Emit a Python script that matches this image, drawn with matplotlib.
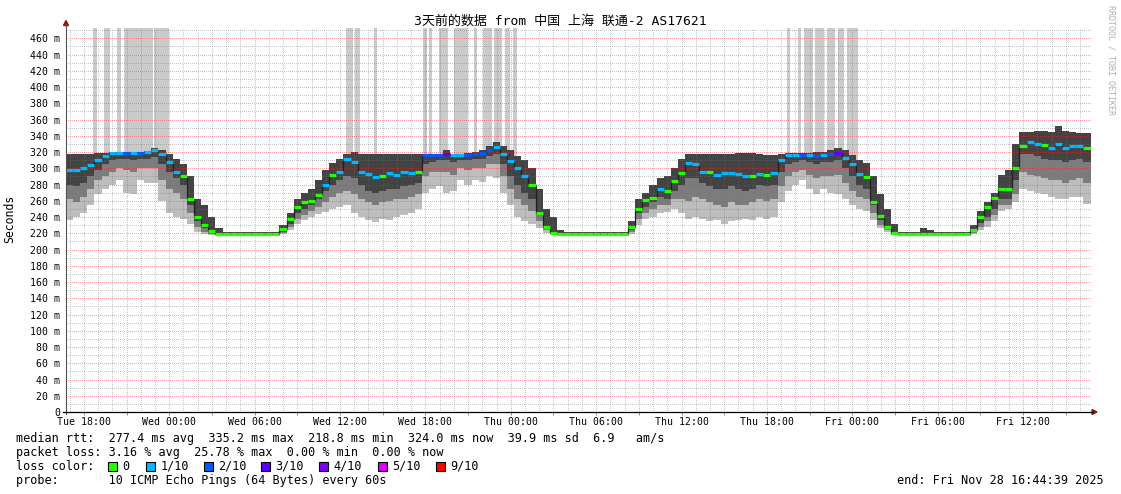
#!/usr/bin/env python3
# SmokePing style latency graph: 3 days of median rtt, smoke and loss colour.
import numpy as np
import matplotlib
matplotlib.use("Agg")
import matplotlib.pyplot as plt
from matplotlib.lines import Line2D
from matplotlib.patches import Polygon, Rectangle

# -----------------------------------------------------------------------------
# Data: time is hours since Tue 25 Nov 00:00, one value per 30 min step
# -----------------------------------------------------------------------------
T_START = 16 + 44 / 60 + 39 / 3600
STEP = 0.5

median_ms = [
    298.5, 298, 300, 304, 310, 315, 319, 319, 319, 319, 319, 320,
    322, 317, 308, 296, 290, 262, 240, 230, 223, 219.5, 219, 219,
    219, 219, 219, 219, 219, 219, 225, 238, 252, 258, 260, 267,
    280, 292, 296, 311, 308, 296, 293, 289, 291, 294, 292, 295,
    294, 296, 316, 316, 316, 318, 316, 316, 316, 317, 319, 323,
    326, 318, 309, 300, 291, 280, 245, 228, 220, 219, 219, 219,
    219, 219, 219, 219, 219, 219, 219.5, 228, 250, 261, 264, 274,
    272, 284, 294, 307, 305, 296, 295, 292, 294, 294, 293, 290,
    291, 293, 292, 294, 310, 316, 316, 316, 316, 315, 316, 317,
    319, 313, 305, 293, 289, 258, 241, 228, 220, 219, 219, 219,
    219, 219, 219, 219, 219, 219, 219, 224, 240, 252, 263, 275,
    274, 300, 327, 332, 330, 329, 325, 330, 325, 327, 328, 325,
]

# lost pings out of 10 for each step
loss_count = [
    1, 1, 1, 1, 1, 1, 1, 1, 2, 1, 2, 1,
    1, 1, 1, 1, 0, 0, 0, 0, 0, 0, 0, 0,
    0, 0, 0, 0, 0, 0, 0, 0, 0, 0, 0, 0,
    1, 0, 1, 1, 1, 1, 1, 1, 0, 1, 1, 1,
    1, 0, 2, 2, 2, 3, 1, 1, 2, 2, 2, 2,
    1, 1, 1, 1, 1, 0, 0, 0, 0, 0, 0, 0,
    0, 0, 0, 0, 0, 0, 0, 0, 0, 0, 0, 1,
    0, 0, 0, 1, 1, 1, 0, 1, 1, 1, 1, 1,
    0, 1, 0, 1, 1, 1, 1, 2, 1, 2, 1, 2,
    3, 1, 1, 1, 0, 0, 0, 0, 0, 0, 0, 0,
    0, 0, 0, 0, 0, 0, 0, 0, 0, 0, 0, 0,
    0, 0, 0, 1, 1, 0, 1, 1, 1, 1, 1, 0,
]

# smoke: highest ping, and lower edges of the dark / mid / light layers
smoke_top = [
    318, 318, 318, 318, 319, 319, 320, 320, 320, 320, 320, 321,
    325, 322, 318, 312, 305, 290, 262, 255, 240, 226, 221, 221,
    221, 221, 221, 221, 221, 221, 230, 245, 262, 270, 275, 285,
    298, 306, 312, 318, 320, 318, 318, 318, 318, 318, 318, 317,
    317, 317, 318, 318, 318, 322, 318, 318, 319, 320, 323, 328,
    332, 328, 322, 315, 310, 300, 275, 250, 240, 224, 221, 221,
    221, 221, 221, 221, 221, 221, 222, 235, 262, 270, 280, 288,
    290, 300, 312, 318, 318, 318, 318, 318, 318, 318, 319, 319,
    319, 318, 316, 316, 318, 319, 319, 319, 319, 320, 320, 323,
    325, 322, 316, 310, 306, 290, 268, 250, 232, 221, 221, 221,
    226, 224, 221, 221, 221, 221, 221, 230, 248, 258, 270, 292,
    298, 330, 345, 345, 346, 346, 345, 352, 346, 345, 344, 344,
]
smoke_dark_lo = [
    280, 278, 282, 290, 298, 305, 310, 312, 312, 310, 312, 312,
    314, 305, 295, 288, 280, 255, 235, 226, 220, 219, 218.5, 218.5,
    218.5, 218.5, 218.5, 218.5, 218.5, 218.5, 222, 232, 245, 250, 255, 262,
    272, 280, 285, 290, 288, 280, 272, 270, 272, 275, 275, 278,
    280, 282, 305, 308, 310, 310, 308, 310, 310, 312, 312, 315,
    318, 305, 290, 280, 270, 262, 245, 228, 222, 219, 218.5, 218.5,
    218.5, 218.5, 218.5, 218.5, 218.5, 218.5, 219, 224, 245, 252, 258, 265,
    262, 272, 280, 288, 288, 282, 278, 275, 275, 278, 275, 272,
    275, 280, 278, 280, 295, 305, 308, 310, 308, 305, 308, 308,
    310, 300, 290, 280, 275, 255, 236, 228, 220, 218.5, 218.5, 218.5,
    218.5, 218.5, 218.5, 218.5, 218.5, 218.5, 218.5, 222, 233, 240, 250, 262,
    262, 285, 318, 318, 315, 312, 310, 310, 308, 310, 312, 308,
]
smoke_mid_lo = [
    262, 258, 265, 275, 285, 290, 295, 300, 298, 295, 300, 300,
    300, 285, 275, 270, 262, 245, 228, 222, 219, 218.5, 218.3, 218.3,
    218.3, 218.3, 218.3, 218.3, 218.3, 218.3, 220, 228, 238, 243, 248, 252,
    258, 265, 270, 272, 268, 262, 258, 255, 258, 260, 262, 262,
    265, 268, 290, 295, 295, 295, 292, 300, 298, 300, 300, 305,
    305, 290, 275, 262, 255, 248, 235, 224, 220, 218.5, 218.3, 218.3,
    218.3, 218.3, 218.3, 218.3, 218.3, 218.3, 218.5, 221, 238, 245, 250, 255,
    255, 262, 262, 260, 265, 262, 258, 255, 252, 258, 255, 255,
    258, 262, 260, 262, 278, 290, 295, 298, 292, 288, 290, 290,
    292, 282, 272, 265, 262, 245, 230, 224, 219, 218.3, 218.3, 218.3,
    218.3, 218.3, 218.3, 218.3, 218.3, 218.3, 218.3, 220, 228, 235, 243, 255,
    255, 268, 295, 292, 290, 288, 285, 285, 282, 285, 288, 282,
]
smoke_min = [
    236, 240, 245, 255, 268, 275, 280, 285, 270, 268, 285, 282,
    282, 260, 245, 240, 238, 232, 222, 219, 218, 218, 218.2, 218.2,
    218.2, 218.2, 218.2, 218.2, 218.2, 218.2, 219, 224, 232, 236, 240, 244,
    246, 250, 252, 255, 245, 240, 236, 234, 237, 236, 240, 242,
    245, 250, 270, 275, 278, 270, 272, 285, 280, 285, 283, 290,
    288, 270, 255, 240, 235, 232, 226, 220, 219, 218, 218.2, 218.2,
    218.2, 218.2, 218.2, 218.2, 218.2, 218.2, 218.2, 219, 230, 238, 240, 245,
    246, 250, 245, 238, 240, 238, 235, 236, 232, 235, 236, 238,
    236, 240, 238, 240, 258, 272, 280, 285, 275, 268, 275, 270,
    268, 262, 255, 250, 248, 236, 226, 221, 218.5, 218.2, 218.2, 218.2,
    218.2, 218.2, 218.2, 218.2, 218.2, 218.2, 218.2, 219, 224, 228, 235, 248,
    250, 258, 275, 272, 270, 268, 265, 262, 262, 265, 265, 256,
]

# spans (hours) where lost pings push the outer smoke to the top of the graph
lost_start = [18.64, 19.41, 20.33, 20.82, 22.93, 36.42, 37.05, 38.39,
              41.83, 42.25, 42.96, 44.01, 45.42, 46.05, 46.82, 47.59, 48.16,
              67.41, 68.18, 68.61, 69.38, 70.22, 70.99, 71.62]
lost_end = [18.92, 19.84, 20.61, 22.86, 23.98, 36.91, 37.40, 38.60,
            42.11, 42.46, 43.59, 45.00, 45.63, 46.68, 47.38, 47.95, 48.44,
            67.62, 68.39, 69.24, 70.01, 70.78, 71.41, 72.39]

loss_levels = [0, 1, 2, 3, 4, 5, 9]
loss_labels = ["0", "1/10", "2/10", "3/10", "4/10", "5/10", "9/10"]
loss_colors = ["#26ff00", "#00b8ff", "#0059ff", "#5e00ff", "#7e00ff",
               "#dd00ff", "#ff0000"]

day_names = ["Tue", "Wed", "Thu", "Fri"]

legend_lines = [
    "median rtt:  277.4 ms avg  335.2 ms max  218.8 ms min  324.0 ms now  39.9 ms sd  6.9   am/s",
    "packet loss: 3.16 % avg  25.78 % max  0.00 % min  0.00 % now",
]
probe_line = "probe:       10 ICMP Echo Pings (64 Bytes) every 60s"
end_line = "end: Fri Nov 28 16:44:39 2025"
title = "3天前的数据 from 中国 上海 联通-2 AS17621"

# -----------------------------------------------------------------------------
# Layout (pixels of the 1121x494 canvas)
# -----------------------------------------------------------------------------
W, H, DPI = 1121, 494, 100
PX_L, PX_R, PX_T, PX_B = 66, 1090.6, 28, 412
Y_MAX = 472.7
MONO = "DejaVu Sans Mono"


def fx(x):
    return x / W


def fy(y):
    return 1 - y / H


fig = plt.figure(figsize=(W / DPI, H / DPI), dpi=DPI, facecolor="white")
ax = fig.add_axes([fx(PX_L), fy(PX_B), (PX_R - PX_L) / W, (PX_B - PX_T) / H])
ax.set_facecolor("white")

n = len(median_ms)
edges = T_START + STEP * np.arange(n + 1)


def ext(a):
    a = np.asarray(a, dtype=float)
    return np.append(a, a[-1])


# lost-ping bars (lightest smoke reaching the top)
ax.bar(lost_start, Y_MAX - 300, width=np.subtract(lost_end, lost_start),
       bottom=300, align="edge", color="#cacaca", linewidth=0, zorder=0.5)

# smoke layers, light to dark
for lo, col in [(smoke_min, "#bdbdbd"), (smoke_mid_lo, "#7c7c7c"),
                (smoke_dark_lo, "#434343")]:
    ax.fill_between(edges, ext(lo), ext(smoke_top), step="post",
                    color=col, linewidth=0, zorder=1)

# dotted grid drawn over the smoke (rrdtool style)
minor_c = (0.45, 0.45, 0.45, 0.4)
major_c = (1.0, 0.15, 0.15, 0.42)
for h in np.arange(17, 89):
    c = major_c if h % 9 == 3 else minor_c
    ax.plot([h, h], [0, Y_MAX], color=c, lw=0.72, dashes=(1, 2),
            antialiased=False, zorder=4)
for v in range(10, 480, 10):
    if v > Y_MAX:
        break
    c = major_c if v % 20 == 0 else minor_c
    ax.plot([T_START, T_START + 72], [v, v], color=c, lw=0.72,
            dashes=(1, 2), antialiased=False, zorder=4)

# median line: black joins plus loss-coloured steps
med = np.asarray(median_ms, dtype=float)
ax.step(edges, ext(med), where="post", color="#202020", lw=0.9, zorder=5)
loss = np.asarray(loss_count)
for lvl, col in zip(loss_levels, loss_colors):
    m = loss == lvl
    if m.any():
        ax.hlines(med[m], edges[:-1][m], edges[1:][m], colors=col,
                  linewidth=2.3, capstyle="butt", zorder=6)

ax.set_xlim(T_START, T_START + 72)
ax.set_ylim(0, Y_MAX)
for s in ax.spines.values():
    s.set_visible(False)

# ticks
xt = np.arange(18, 85, 6)
ax.set_xticks(xt)
ax.set_xticklabels([f"{day_names[int(h // 24)]} {int(h % 24):02d}:00" for h in xt],
                   fontfamily=MONO, fontsize=7.1)
ax.set_xticks(np.arange(21, 88, 6), minor=True)
ax.tick_params(axis="x", which="both", length=2.5, width=0.72,
               color="#909090", pad=1.0, labelcolor="#000000")
yt = np.arange(0, 461, 20)
ax.set_yticks(yt)
ax.set_yticklabels([f"{v} m" if v else "0" for v in yt],
                   fontfamily=MONO, fontsize=7.1)
ax.tick_params(axis="y", length=0, pad=4.3, labelcolor="#000000")

# axis lines with arrows
fig.add_artist(Line2D([fx(PX_L), fx(PX_L)], [fy(PX_B + 2), fy(24)],
                      color="#505050", lw=0.8, transform=fig.transFigure))
fig.add_artist(Line2D([fx(PX_L - 3), fx(1093)], [fy(PX_B), fy(PX_B)],
                      color="#000000", lw=0.9, transform=fig.transFigure))
fig.add_artist(Polygon([[fx(63.5), fy(25.5)], [fx(68.5), fy(25.5)],
                        [fx(66), fy(20.5)]], closed=True, color="#8b1a1a",
                       transform=fig.transFigure))
fig.add_artist(Polygon([[fx(1092), fy(409.5)], [fx(1092), fy(414.5)],
                        [fx(1097), fy(412)]], closed=True, color="#8b1a1a",
                       transform=fig.transFigure))

# texts
fig.text(fx(560), fy(21), title, ha="center", va="center", fontsize=9.4,
         family=[MONO, "Noto Sans CJK SC"], color="#000000")
fig.text(fx(10), fy(219), "Seconds", rotation=90, ha="center", va="center",
         fontsize=8.3, family=MONO)
fig.text(fx(1111.5), fy(60), "RRDTOOL / TOBI OETIKER", rotation=270,
         ha="center", va="center", fontsize=6, family=MONO, color="#b0b0b0")

for line, y in zip(legend_lines, [438, 452]):
    fig.text(fx(16), fy(y), line, ha="left", va="center", fontsize=8.5,
             family=MONO)
fig.text(fx(16), fy(466), "loss color:", ha="left", va="center",
         fontsize=8.5, family=MONO)
box_x = [108, 146, 203.5, 261, 319, 377.5, 435.5]
for bx, lab, col in zip(box_x, loss_labels, loss_colors):
    fig.add_artist(Rectangle((fx(bx), fy(470.5)), 9 / W, 9 / H,
                             facecolor=col, edgecolor="black", lw=0.8,
                             transform=fig.transFigure))
    fig.text(fx(bx + 14.5), fy(466), lab, ha="left", va="center",
             fontsize=8.5, family=MONO)
fig.text(fx(16), fy(480), probe_line, ha="left", va="center", fontsize=8.5,
         family=MONO)
fig.text(fx(1104), fy(480), end_line, ha="right", va="center", fontsize=8.5,
         family=MONO)

fig.savefig("out.png", dpi=DPI, facecolor="white")
